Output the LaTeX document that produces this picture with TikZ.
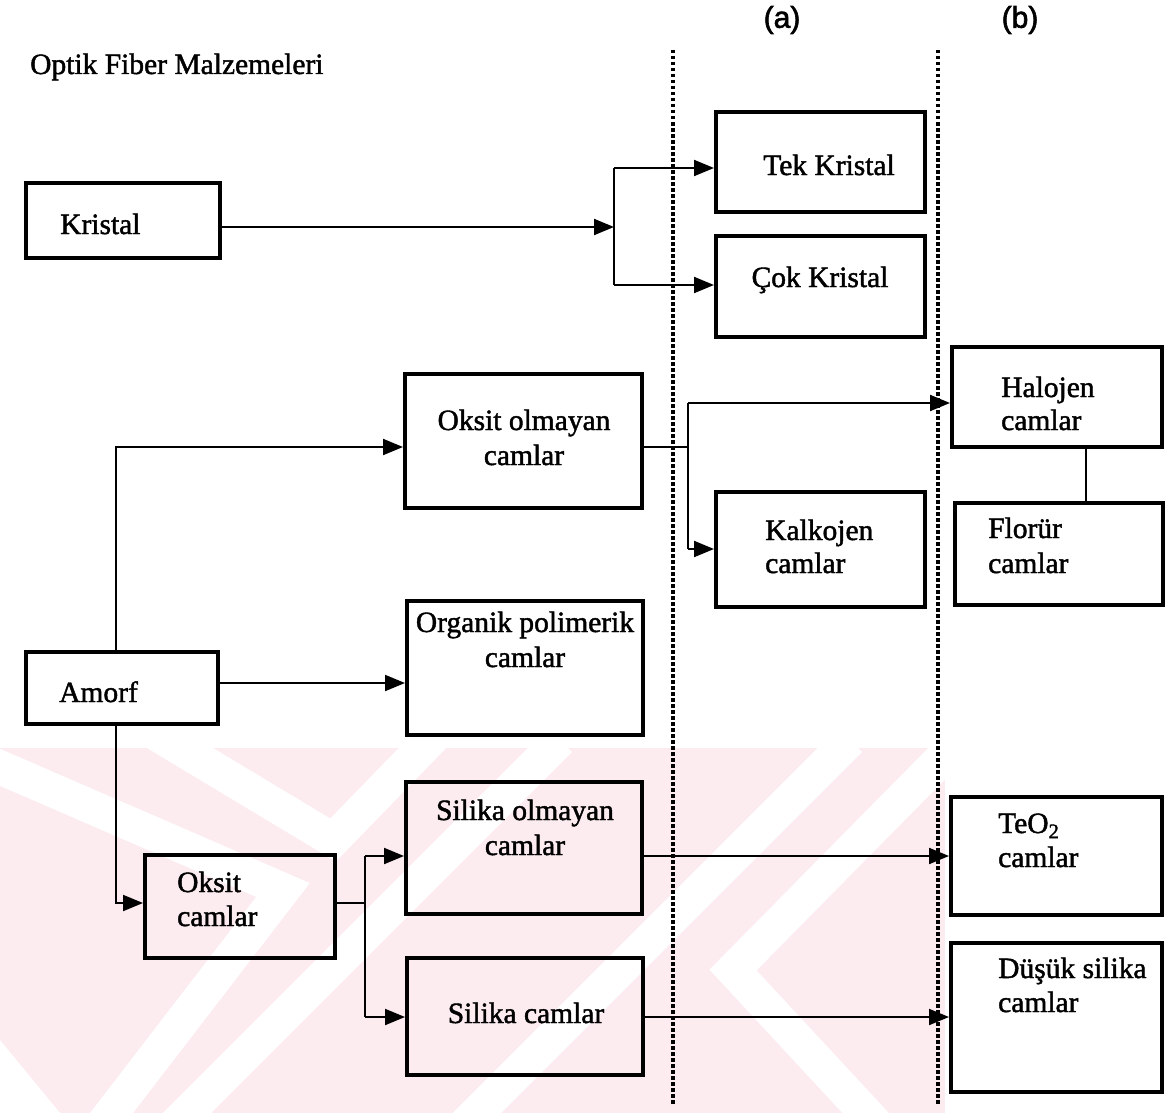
\documentclass[tikz,border=0pt]{standalone}
\usepackage{fontspec}
\setmainfont{Liberation Serif}
\newfontfamily\boxfont{Liberation Serif}[FakeBold=1.5]
\newfontfamily\panelfont{Liberation Sans}[FakeBold=2]
\usetikzlibrary{arrows.meta,fit}
\definecolor{wmpink}{RGB}{253,236,239}
\begin{document}
\begin{tikzpicture}[x=1pt,y=-1pt,
  box/.style={draw, line width=4pt, inner sep=0pt},
  txt/.style={inner sep=0pt, font=\boxfont\fontsize{29.5}{34}\selectfont},
  panel/.style={inner sep=0pt, font=\panelfont\fontsize{30}{34}\selectfont},
  wire/.style={line width=2pt},
  arr/.style={line width=2pt, -{Triangle[length=20pt,width=16pt]}},
  sep/.style={line width=4.5pt, dash pattern=on 3.5pt off 2.5pt},
  wmcut/.style={line width=34pt, white, line join=miter}]
\useasboundingbox (0,0) rectangle (1174,1113);

% faint background seal in the lower part of the page
\begin{scope}
  \clip (0,748) rectangle (945,1113);
  \fill[wmpink] (0,748) rectangle (945,1113);
  \draw[wmcut] (-40,750) -- (283,890) -- (60,1180);
  \draw[wmcut] (150,730) -- (333,840) -- (440,730);
  \draw[wmcut] (150,1150) -- (560,740);
  \draw[wmcut] (440,1150) -- (850,740);
  \draw[wmcut] (960,740) -- (733,970) -- (900,1150);
  \fill[white] (0,1040) -- (0,1113) -- (60,1113) -- cycle;
\end{scope}

% column headings and title
\node[txt, anchor=base west] (title) at (30,74) {Optik Fiber Malzemeleri};
\node[panel] (pa) at (782,20) {(a)};
\node[panel] (pb) at (1020,20) {(b)};

% dotted column separators
\coordinate (sa1) at (673,50);
\coordinate (sa2) at (673,1105);
\coordinate (sb1) at (938,50);
\coordinate (sb2) at (938,1105);
\draw[sep] (sa1) -- (sa2);
\draw[sep] (sb1) -- (sb2);

% boxes
\node[box, fit={(26,183) (220,258)}] (kristal) {};
\node[box, fit={(716,112) (925,212)}] (tek) {};
\node[box, fit={(716,236) (925,337)}] (cok) {};
\node[box, fit={(405,374) (642,508)}] (oksitol) {};
\node[box, fit={(716,492) (925,607)}] (kalkojen) {};
\node[box, fit={(952,347) (1162,447)}] (halojen) {};
\node[box, fit={(955,503) (1163,605)}] (florur) {};
\node[box, fit={(26,652) (218,724)}] (amorf) {};
\node[box, fit={(407,601) (643,735)}] (organik) {};
\node[box, fit={(145,855) (335,958)}] (oksit) {};
\node[box, fit={(406,782) (642,914)}] (silikaol) {};
\node[box, fit={(407,958) (643,1075)}] (silika) {};
\node[box, fit={(951,797) (1162,915)}] (teo) {};
\node[box, fit={(951,943) (1162,1092)}] (dusuk) {};

% box texts
\node[txt, anchor=base west] (tkristal) at (60,234) {Kristal};
\node[txt, anchor=base] (ttek) at (829,175) {Tek Kristal};
\node[txt, anchor=base] (tcok) at (820,287) {Çok Kristal};
\node[txt, anchor=base] (toksitol1) at (524,430) {Oksit olmayan};
\node[txt, anchor=base] (toksitol2) at (524,465) {camlar};
\node[txt, anchor=base west] (tkalk1) at (765,540) {Kalkojen};
\node[txt, anchor=base west] (tkalk2) at (765,573) {camlar};
\node[txt, anchor=base west] (thal1) at (1001,397) {Halojen};
\node[txt, anchor=base west] (thal2) at (1001,430) {camlar};
\node[txt, anchor=base west] (tflo1) at (988,538) {Florür};
\node[txt, anchor=base west] (tflo2) at (988,573) {camlar};
\node[txt, anchor=base west] (tamorf) at (59,702) {Amorf};
\node[txt, anchor=base] (torg1) at (525,632) {Organik polimerik};
\node[txt, anchor=base] (torg2) at (525,667) {camlar};
\node[txt, anchor=base west] (toks1) at (177,892) {Oksit};
\node[txt, anchor=base west] (toks2) at (177,926) {camlar};
\node[txt, anchor=base] (tsol1) at (525,820) {Silika olmayan};
\node[txt, anchor=base] (tsol2) at (525,855) {camlar};
\node[txt, anchor=base] (tsil) at (526,1023) {Silika camlar};
\node[txt, anchor=base west] (tteo1) at (998,833) {TeO\textsubscript{2}};
\node[txt, anchor=base west] (tteo2) at (998,867) {camlar};
\node[txt, anchor=base west] (tdus1) at (998,978) {Düşük silika};
\node[txt, anchor=base west] (tdus2) at (998,1012) {camlar};

% Kristal branch
\coordinate (kb) at (614,227);
\coordinate (kbt) at (614,168);
\coordinate (kbc) at (614,285);
\draw[arr] (kristal.east |- kb) -- (kb);
\draw[wire] (kbt) -- (kbc);
\draw[arr] (kbt) -- (kbt -| tek.west);
\draw[arr] (kbc) -- (kbc -| cok.west);

% non-oxide glasses branch
\coordinate (ob) at (688,447);
\coordinate (obt) at (688,403);
\coordinate (obk) at (688,549);
\draw[wire] (oksitol.east |- ob) -- (ob);
\draw[wire] (obt) -- (obk);
\draw[arr] (obt) -- (obt -| halojen.west);
\draw[arr] (obk) -- (obk -| kalkojen.west);

% halide -> fluoride
\coordinate (hf) at (1086,0);
\draw[wire] (halojen.south -| hf) -- (florur.north -| hf);

% Amorf branches
\coordinate (ax) at (116,447);
\coordinate (ao) at (0,683);
\coordinate (ad) at (116,903);
\draw[arr] (amorf.north -| ax) -- (ax) -- (ax -| oksitol.west);
\draw[arr] (amorf.east |- ao) -- (ao -| organik.west);
\draw[arr] (amorf.south -| ad) -- (ad) -- (ad -| oksit.west);

% oxide glasses branch
\coordinate (sb) at (365,903);
\coordinate (sbt) at (365,856);
\coordinate (sbs) at (365,1017);
\draw[wire] (oksit.east |- sb) -- (sb);
\draw[wire] (sbt) -- (sbs);
\draw[arr] (sbt) -- (sbt -| silikaol.west);
\draw[arr] (sbs) -- (sbs -| silika.west);
\draw[arr] (silikaol.east |- sbt) -- (sbt -| teo.west);
\draw[arr] (silika.east |- sbs) -- (sbs -| dusuk.west);
\end{tikzpicture}
\end{document}
